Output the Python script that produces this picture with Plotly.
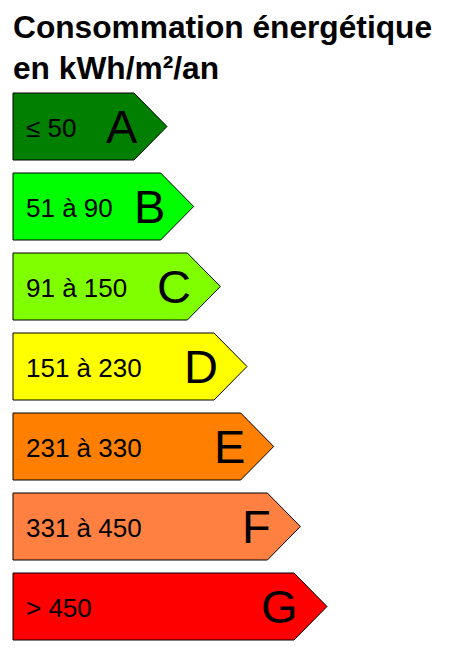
import plotly.graph_objects as go

# Energy label classes (DPE)
classes = ['A', 'B', 'C', 'D', 'E', 'F', 'G']
ranges = ['≤ 50', '51 à 90', '91 à 150', '151 à 230', '231 à 330', '331 à 450', '> 450']
colors = ['#007f00', '#00ff00', '#80ff00', '#ffff00', '#ff8000', '#ff8040', '#ff0000']

title_lines = ['Consommation énergétique', 'en kWh/m²/an']

W, H = 466, 666
off = 8          # page body margin
x0 = 13          # left edge of arrows
top0 = 93        # top of first arrow
pitch = 80       # vertical distance between arrows
h = 67           # arrow height
body0 = 121      # body length of first arrow
step = 26.67     # extra length per class
tip = 33         # length of the point

fig = go.Figure()

for i, (cls, rng, col) in enumerate(zip(classes, ranges, colors)):
    yt = top0 + pitch * i
    yb = yt + h
    xe = x0 + body0 + step * i
    xs = [x0, xe, xe + tip, xe, x0, x0]
    ys = [yt, yt, (yt + yb) / 2, yb, yb, yt]
    fig.add_trace(go.Scatter(x=xs, y=ys, mode='lines', fill='toself', fillcolor=col,
                             line=dict(color='black', width=1), hoverinfo='skip',
                             showlegend=False))
    fig.add_annotation(x=x0 + 11, y=(yt + yb) / 2 + 1, text=rng, showarrow=False,
                       xanchor='left', yanchor='middle',
                       font=dict(family='Liberation Sans', size=26, color='black'))
    fig.add_annotation(x=xe + 6, y=(yt + yb) / 2, text=cls, showarrow=False,
                       xanchor='right', yanchor='middle',
                       font=dict(family='Liberation Sans', size=47, color='black'))

for j, line in enumerate(title_lines):
    fig.add_annotation(x=x0 - 2, y=27 + 41 * j, text='<b>' + line + '</b>', showarrow=False,
                       xanchor='left', yanchor='middle',
                       font=dict(family='Liberation Sans', size=31.7, color='black'))

fig.update_layout(
    width=W, height=H,
    margin=dict(l=0, r=0, t=0, b=0),
    paper_bgcolor='white', plot_bgcolor='white',
    xaxis=dict(range=[off, W + off], visible=False, fixedrange=True),
    yaxis=dict(range=[H + off, off], visible=False, fixedrange=True),
)

fig.write_html("out.html")
